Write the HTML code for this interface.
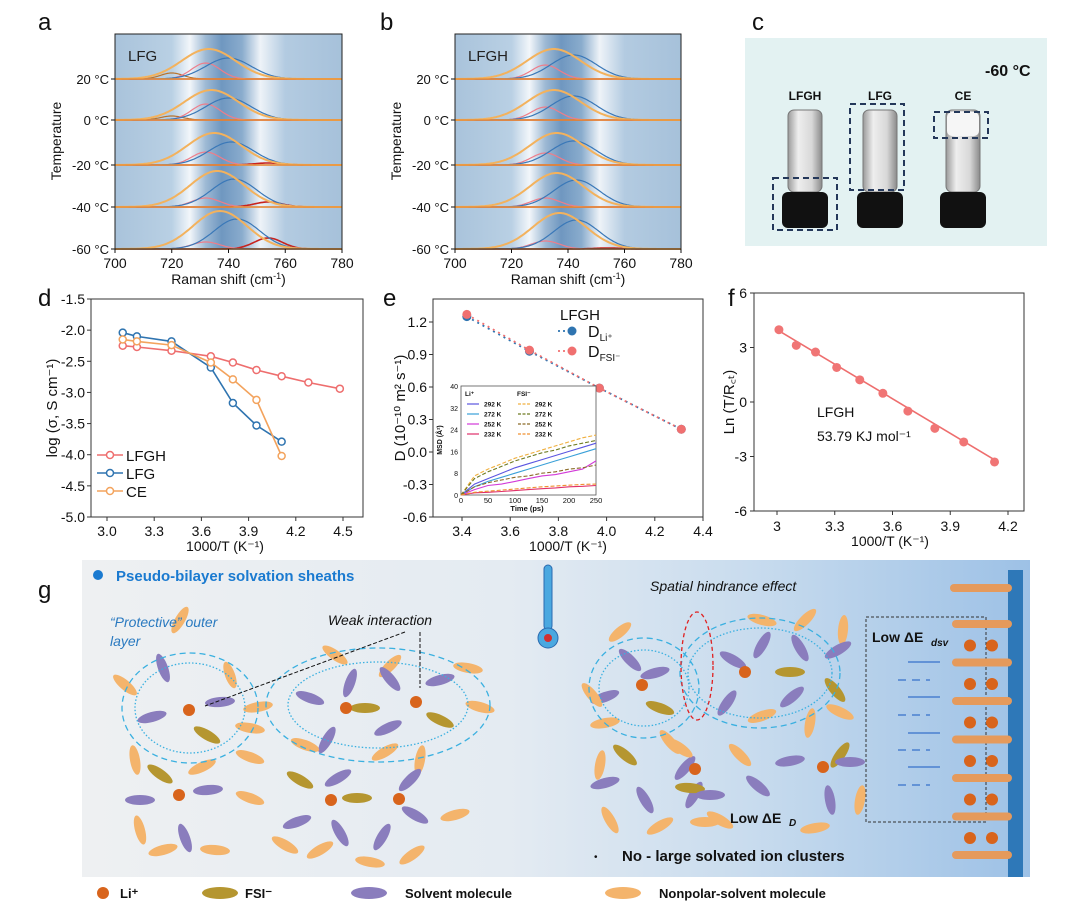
<!DOCTYPE html>
<html><head><meta charset="utf-8">
<style>
html,body{margin:0;padding:0;background:#fff;}
svg{display:block;font-family:"Liberation Sans",Arial,sans-serif;}
</style></head>
<body>
<svg id="fig" width="1080" height="910" viewBox="0 0 1080 910" xmlns="http://www.w3.org/2000/svg">
<defs>
<linearGradient id="ramanBg" x1="0" x2="1" y1="0" y2="0">
<stop offset="0" stop-color="#a9c3db"/><stop offset="0.25" stop-color="#b9d0e4"/>
<stop offset="0.33" stop-color="#f2f6fa"/><stop offset="0.40" stop-color="#9db9d4"/>
<stop offset="0.47" stop-color="#6f97c0"/><stop offset="0.56" stop-color="#8aaccd"/>
<stop offset="0.64" stop-color="#eef3f8"/><stop offset="0.75" stop-color="#b3cbe1"/>
<stop offset="1" stop-color="#a6c1da"/></linearGradient>
<linearGradient id="gBg" x1="0" x2="1" y1="0" y2="0">
<stop offset="0" stop-color="#eef0f2"/><stop offset="0.45" stop-color="#e4ebf2"/>
<stop offset="0.7" stop-color="#c9dcee"/><stop offset="1" stop-color="#9dc1e6"/></linearGradient>
<linearGradient id="glass" x1="0" x2="1"><stop offset="0" stop-color="#9a9a9a"/><stop offset="0.3" stop-color="#eeeeee"/><stop offset="0.7" stop-color="#d8d8d8"/><stop offset="1" stop-color="#8a8a8a"/></linearGradient>
</defs>
<g id="root"></g>
</svg>
<script>
// ---------- data ----------
const ramanTemps = ['20 °C','0 °C','-20 °C','-40 °C','-60 °C'];
const lfgTotalAmp = [30,30,32,36,38];
const lfgTotalCenter = [733,734,735,736,737];
const lfgBlueAmp = [21,22,23,28,30];
const lfgBlueCenter = [740,740,741,742,743];
const lfgPinkAmp = [16,16,13,9,7];
const lfgRedAmp = [0,0,2,5,11];
const lfgBrownAmp = [6,4,0,0,0];
const lfghTotalAmp = [30,30,32,34,36];
const lfghTotalCenter = [735,735,736,736,737];
const lfghBlueAmp = [24,24,24,27,29];
const lfghBlueCenter = [742,742,742,743,743];
const lfghPinkAmp = [14,13,12,9,8];

const dX = [3.10,3.19,3.41,3.66,3.80,3.95,4.11,4.28,4.48];
const dLFGH = [-2.25,-2.27,-2.33,-2.42,-2.52,-2.64,-2.74,-2.84,-2.94];
const dLFG = [-2.04,-2.10,-2.18,-2.60,-3.17,-3.53,-3.79];
const dCE = [-2.15,-2.18,-2.24,-2.52,-2.79,-3.12,-4.02];
const dYTicks = ['-1.5','-2.0','-2.5','-3.0','-3.5','-4.0','-4.5','-5.0'];
const dXTicks = ['3.0','3.3','3.6','3.9','4.2','4.5'];

const eX = [3.42,3.68,3.97,4.31];
const eLi = [1.25,0.93,0.59,0.21];
const eFSI = [1.27,0.94,0.59,0.21];
const eYTicks = ['1.2','0.9','0.6','0.3','0.0','-0.3','-0.6'];
const eXTicks = ['3.4','3.6','3.8','4.0','4.2','4.4'];

const msdT = [0,25,50,75,100,125,150,175,200,225,250];
const msdLi292 = [0,4,6,8,10,11.5,13,14.5,16,17.5,19];
const msdLi272 = [0,3,5,6.5,8,9.5,11,12.5,14,15.5,17];
const msdLi252 = [0,2,3.5,4,5,6,7,7.5,8.5,9.5,12.5];
const msdLi232 = [0,0.8,1,1.3,1.6,2,2.3,2.6,3,3.2,3.5];
const msdF292 = [0,7,9.5,11.5,13.5,15,16.5,18,19.5,21,22];
const msdF272 = [0,6,8.5,10.5,12.5,14,15.5,16.5,18,19,20];
const msdF252 = [0,3,4.5,5.5,6.5,7,8,8.5,9.5,10,11];
const msdF232 = [0,1,1.4,1.8,2.2,2.6,3,3.3,3.6,3.9,4];

const fX = [3.01,3.10,3.20,3.31,3.43,3.55,3.68,3.82,3.97,4.13];
const fY = [3.98,3.12,2.75,1.9,1.22,0.48,-0.5,-1.45,-2.2,-3.3];
const fFitX = [3.01,4.13];
const fFitY = [3.92,-3.18];
const fYTicks = ['6','3','0','-3','-6'];
const fXTicks = ['3','3.3','3.6','3.9','4.2'];

// ---------- helpers ----------
const NS='http://www.w3.org/2000/svg';
const root=document.getElementById('root');
function el(tag,attrs,parent){const e=document.createElementNS(NS,tag);for(const k in attrs)e.setAttribute(k,attrs[k]);(parent||root).appendChild(e);return e;}
function txt(x,y,s,attrs,parent){const t=el('text',Object.assign({x:x,y:y},attrs||{}),parent);t.textContent=s;return t;}
function lin(d0,d1,r0,r1){return v=>r0+(v-d0)/(d1-d0)*(r1-r0);}
function g(v,c,s){return Math.exp(-((v-c)*(v-c))/(2*s*s));}

// panel letters
[['a',38,30],['b',380,30],['c',752,30],['d',38,306],['e',383,306],['f',728,306],['g',38,598]].forEach(p=>{
 const t=txt(p[1],p[2],p[0],{'font-size':24,fill:'#111'});
 
 
});

// ---------- Raman panels ----------
const rowY=[79,120,165,207,249];
function raman(px0,px1,name,label,totA,totC,bluA,bluC,pinkA,redA,brA){
 const G=el('g',{});
 
 
 const X=lin(700,780,px0,px1);
 el('rect',{x:px0,y:34,width:px1-px0,height:215,fill:'url(#ramanBg)'},G);
 for(let r=0;r<5;r++){
  const b=rowY[r];
  const comp=(f,col,w)=>{let d='';for(let v=700;v<=780;v+=0.5){d+=(v===700?'M':'L')+X(v).toFixed(1)+','+(b-f(v)).toFixed(1);}
   const p=el('path',{d:d,fill:'none',stroke:col,'stroke-width':w},G);
   
   };
  comp(v=>brA[r]*g(v,720,4),'#b8742e',1.2);
  comp(v=>redA[r]*g(v,754,5),'#c8231e',1.6);
  comp(v=>pinkA[r]*g(v,732,5),'#ee7d8a',1.2);
  comp(v=>bluA[r]*g(v,bluC[r],8),'#3a78b8',1.2);
  comp(v=>totA[r]*g(v,totC[r],9.5),'#f3b25d',2);
  el('line',{x1:px0,x2:px1,y1:b,y2:b,stroke:'#e8913c','stroke-width':1.6},G);
  const t=txt(px0-6,b+5,ramanTemps[r],{'font-size':13,'text-anchor':'end',fill:'#111'},G);
  
  
  el('line',{x1:px0-4,x2:px0,y1:b,y2:b,stroke:'#111'},G);
 }
 el('rect',{x:px0,y:34,width:px1-px0,height:215,fill:'none',stroke:'#222','stroke-width':1},G);
 [700,720,740,760,780].forEach(v=>{el('line',{x1:X(v),x2:X(v),y1:249,y2:253,stroke:'#111'},G);
  const t=txt(X(v),268,String(v),{'font-size':14,'text-anchor':'middle',fill:'#111'},G);
  
  });
 const xl=txt((px0+px1)/2,284,'Raman shift (cm',{'font-size':14,'text-anchor':'middle',fill:'#111'},G);
 
 
 const ts=document.createElementNS(NS,'tspan');ts.setAttribute('baseline-shift','super');ts.setAttribute('font-size','9');ts.textContent='-1';xl.appendChild(ts);
 const ts2=document.createElementNS(NS,'tspan');ts2.textContent=')';xl.appendChild(ts2);
 const yl=txt(0,0,'Temperature',{'font-size':14,'text-anchor':'middle',fill:'#111',transform:'translate('+(px0-54)+',141) rotate(-90)'},G);
 
 
 const lt=txt(px0+13,61,label,{'font-size':15,fill:'#222'},G);
 
 
}
raman(115,342,'raman-panel-lfg','LFG',lfgTotalAmp,lfgTotalCenter,lfgBlueAmp,lfgBlueCenter,lfgPinkAmp,lfgRedAmp,lfgBrownAmp);
raman(455,681,'raman-panel-lfgh','LFGH',lfghTotalAmp,lfghTotalCenter,lfghBlueAmp,lfghBlueCenter,lfghPinkAmp,[0,0,0,0,1],[0,0,0,0,0]);

// ---------- panel c photo ----------
(function(){
 const G=el('g',{});
 
 
 el('rect',{x:745,y:38,width:302,height:208,fill:'#e3f2f2'},G);
 const t=txt(985,76,'-60 °C',{'font-size':16,'font-weight':'bold',fill:'#111'},G);
 
 
 [['LFGH',805],['LFG',880],['CE',963]].forEach((v,i)=>{
  const l=txt(v[1],100,v[0],{'font-size':12,'font-weight':'bold','text-anchor':'middle',fill:'#111'},G);
  
  
  el('rect',{x:v[1]-17,y:110,width:34,height:82,rx:6,fill:'url(#glass)',stroke:'#777'},G);
  if(i===2) el('rect',{x:v[1]-16,y:112,width:32,height:24,rx:5,fill:'#f6f6f6'},G);
  el('rect',{x:v[1]-23,y:192,width:46,height:36,rx:6,fill:'#111'},G);
 });
 [[773,178,64,52],[850,104,54,86],[934,112,54,26]].forEach(b=>{
  const r=el('rect',{x:b[0],y:b[1],width:b[2],height:b[3],fill:'none',stroke:'#24385a','stroke-width':2,'stroke-dasharray':'6,4'},G);
  
  
 });
})();

// ---------- generic axes ----------
function axesBox(x0,y0,x1,y1,name){const r=el('rect',{x:x0,y:y0,width:x1-x0,height:y1-y0,fill:'none',stroke:'#333','stroke-width':1});
 
 }

// ---------- panel d ----------
(function(){
 const X=lin(3.0,4.5,107,343), Y=lin(-1.5,-5.0,299,517);
 axesBox(91,299,363,517,'conductivity-axes');
 dYTicks.forEach(s=>{const v=parseFloat(s);el('line',{x1:87,x2:91,y1:Y(v),y2:Y(v),stroke:'#333'});
  const t=txt(85,Y(v)+5,s,{'font-size':14,'text-anchor':'end',fill:'#111'});
  
  });
 dXTicks.forEach(s=>{const v=parseFloat(s);el('line',{x1:X(v),x2:X(v),y1:517,y2:521,stroke:'#333'});
  const t=txt(X(v),536,s,{'font-size':14,'text-anchor':'middle',fill:'#111'});
  
  });
 const xl=txt(225,551,'1000/T (K⁻¹)',{'font-size':14,'text-anchor':'middle',fill:'#111'});
 
 
 const yl=txt(0,0,'log (σ,  S cm⁻¹)',{'font-size':15,'text-anchor':'middle',fill:'#111',transform:'translate(57,408) rotate(-90)'});
 
 
 [[dLFGH,'#ee6e6e','LFGH'],[dLFG,'#2f74b0','LFG'],[dCE,'#f3a35d','CE']].forEach((s,k)=>{
  const pts=s[0].map((v,i)=>X(dX[i]).toFixed(1)+','+Y(v).toFixed(1)).join(' ');
  const pl=el('polyline',{points:pts,fill:'none',stroke:s[1],'stroke-width':1.6});
  
  
  s[0].forEach((v,i)=>{const c=el('circle',{cx:X(dX[i]),cy:Y(v),r:3.5,fill:'#fff',stroke:s[1],'stroke-width':1.5});
   
   });
  const ly=455+k*18;
  el('line',{x1:97,x2:123,y1:ly,y2:ly,stroke:s[1],'stroke-width':1.6});
  el('circle',{cx:110,cy:ly,r:3.5,fill:'#fff',stroke:s[1],'stroke-width':1.5});
  const lt=txt(126,ly+6,s[2],{'font-size':15,fill:'#111'});
  
  
 });
})();

// ---------- panel e ----------
(function(){
 const X=lin(3.4,4.4,462,703), Y=lin(1.2,-0.6,322,517);
 axesBox(433,299,703,517,'diffusion-axes');
 eYTicks.forEach(s=>{const v=parseFloat(s);el('line',{x1:429,x2:433,y1:Y(v),y2:Y(v),stroke:'#333'});
  const t=txt(427,Y(v)+5,s,{'font-size':14,'text-anchor':'end',fill:'#111'});
  
  });
 eXTicks.forEach(s=>{const v=parseFloat(s);el('line',{x1:X(v),x2:X(v),y1:517,y2:521,stroke:'#333'});
  const t=txt(X(v),536,s,{'font-size':14,'text-anchor':'middle',fill:'#111'});
  
  });
 const xl=txt(568,551,'1000/T (K⁻¹)',{'font-size':14,'text-anchor':'middle',fill:'#111'});
 
 
 const yl=txt(0,0,'D (10⁻¹⁰ m² s⁻¹)',{'font-size':15,'text-anchor':'middle',fill:'#111',transform:'translate(405,408) rotate(-90)'});
 
 
 [[eLi,'#2f74b0','li'],[eFSI,'#f07070','fsi']].forEach(s=>{
  const pts=s[0].map((v,i)=>X(eX[i]).toFixed(1)+','+Y(v).toFixed(1)).join(' ');
  const pl=el('polyline',{points:pts,fill:'none',stroke:s[1],'stroke-width':1.8,'stroke-dasharray':'2,4'});
  
  
  s[0].forEach((v,i)=>{const c=el('circle',{cx:X(eX[i]),cy:Y(v),r:4.5,fill:s[1]});
   
   });
 });
 const lg=txt(560,320,'LFGH',{'font-size':15,fill:'#111'});
 
 
 el('line',{x1:558,x2:566,y1:331,y2:331,stroke:'#2f74b0','stroke-width':1.8,'stroke-dasharray':'2,3'});
 el('line',{x1:558,x2:566,y1:351,y2:351,stroke:'#f07070','stroke-width':1.8,'stroke-dasharray':'2,3'});
 el('circle',{cx:572,cy:331,r:4.5,fill:'#2f74b0'});
 el('circle',{cx:572,cy:351,r:4.5,fill:'#f07070'});
 const l1=txt(588,337,'D',{'font-size':16,fill:'#111'});
 
 
 const s1=document.createElementNS(NS,'tspan');s1.setAttribute('font-size','10');s1.setAttribute('dy','4');s1.textContent='Li⁺';l1.appendChild(s1);
 const l2=txt(588,357,'D',{'font-size':16,fill:'#111'});
 
 
 const s2=document.createElementNS(NS,'tspan');s2.setAttribute('font-size','10');s2.setAttribute('dy','4');s2.textContent='FSI⁻';l2.appendChild(s2);

 // inset
 const IX=lin(0,250,461,596), IY=lin(0,40,495,386);
 el('rect',{x:461,y:386,width:135,height:109,fill:'#fff',stroke:'#555','stroke-width':0.8});
 ['0','8','16','24','32','40'].forEach(s=>{const t=txt(458,IY(+s)+3,s,{'font-size':7,'text-anchor':'end',fill:'#111'});
  
  });
 ['0','50','100','150','200','250'].forEach(s=>{const t=txt(IX(+s),503,s,{'font-size':7.5,'text-anchor':'middle',fill:'#111'});
  
  });
 const it=txt(527,511,'Time (ps)',{'font-size':7.5,'font-weight':'bold','text-anchor':'middle',fill:'#111'});
 
 
 const iy=txt(0,0,'MSD (Å²)',{'font-size':7,'font-weight':'bold','text-anchor':'middle',fill:'#111',transform:'translate(442,440) rotate(-90)'});
 
 
 const series=[[msdLi292,'#5b55e0',0,'292 K'],[msdLi272,'#3aa0d8',0,'272 K'],[msdLi252,'#d23ad8',0,'252 K'],[msdLi232,'#e0306a',0,'232 K'],
  [msdF292,'#f0b040',1,'292 K'],[msdF272,'#6e7a20',1,'272 K'],[msdF252,'#8a6a28',1,'252 K'],[msdF232,'#f09030',1,'232 K']];
 txt(465,396,'Li⁺',{'font-size':6.5,'font-weight':'bold',fill:'#111'});
 txt(517,396,'FSI⁻',{'font-size':6.5,'font-weight':'bold',fill:'#111'});
 series.forEach((s,k)=>{
  const pts=msdT.map((t,i)=>IX(t).toFixed(1)+','+IY(s[0][i]).toFixed(1)).join(' ');
  const pl=el('polyline',{points:pts,fill:'none',stroke:s[1],'stroke-width':1.1,'stroke-dasharray':s[2]?'4,2':'none'});
  
  
  const lx=s[2]?518:467, ly=404+(k%4)*10;
  el('line',{x1:lx,x2:lx+12,y1:ly,y2:ly,stroke:s[1],'stroke-width':1.2,'stroke-dasharray':s[2]?'3,1.5':'none'});
  const lt=txt(lx+17,ly+2.5,s[3],{'font-size':6.5,'font-weight':'bold',fill:'#111'});
  
  
 });
})();

// ---------- panel f ----------
(function(){
 const X=lin(3.0,4.2,777,1008), Y=lin(6,-6,293,511);
 axesBox(754,293,1024,511,'arrhenius-axes');
 fYTicks.forEach(s=>{const v=parseFloat(s);el('line',{x1:750,x2:754,y1:Y(v),y2:Y(v),stroke:'#333'});
  const t=txt(747,Y(v)+5,s,{'font-size':14,'text-anchor':'end',fill:'#111'});
  
  });
 fXTicks.forEach(s=>{const v=parseFloat(s);el('line',{x1:X(v),x2:X(v),y1:511,y2:515,stroke:'#333'});
  const t=txt(X(v),531,s,{'font-size':14,'text-anchor':'middle',fill:'#111'});
  
  });
 const xl=txt(890,546,'1000/T (K⁻¹)',{'font-size':14,'text-anchor':'middle',fill:'#111'});
 
 
 const yl=txt(0,0,'Ln (T/R꜀ₜ)',{'font-size':15,'text-anchor':'middle',fill:'#111',transform:'translate(734,402) rotate(-90)'});
 
 
 const fl=el('line',{x1:X(fFitX[0]),y1:Y(fFitY[0]),x2:X(fFitX[1]),y2:Y(fFitY[1]),stroke:'#ee6e6e','stroke-width':1.6});
 
 
 fY.forEach((v,i)=>{const c=el('circle',{cx:X(fX[i]),cy:Y(v),r:4.5,fill:'#f07575'});
  
  });
 const a=txt(817,417,'LFGH',{'font-size':14,fill:'#111'});
 
 
 const b=txt(817,441,'53.79 KJ mol⁻¹',{'font-size':14,fill:'#111'});
 
 
})();

// ---------- panel g schematic ----------
(function(){
 const G=el('g',{});
 
 
 el('rect',{x:82,y:560,width:948,height:317,fill:'url(#gBg)'},G);
 el('rect',{x:1008,y:570,width:15,height:307,fill:'#2e78b8'},G);
 el('circle',{cx:98,cy:575,r:5,fill:'#1a7ad0'},G);
 const h=txt(116,581,'Pseudo-bilayer solvation sheaths',{'font-size':15,'font-weight':'bold',fill:'#1a7ad0'},G);
 
 
 const C={o:'#f4b46c',p:'#8a7dbd',y:'#b59630'};
 const ell=[
 [180,620,15,5,-60,'o'],[125,685,15,5,40,'o'],[230,675,14,5,70,'o'],[163,668,15,5,70,'p'],[152,717,15,5,-15,'p'],[220,702,15,5,-5,'p'],[207,735,15,5,30,'y'],[135,760,15,5,80,'o'],[258,707,15,5,-10,'o'],[250,728,15,5,10,'o'],[250,757,15,5,20,'o'],[202,767,15,5,-25,'o'],
 [160,774,15,5,35,'y'],[140,800,15,5,0,'p'],[208,790,15,5,-5,'p'],[140,830,15,5,75,'o'],[185,838,15,5,70,'p'],[163,850,15,5,-15,'o'],[215,850,15,5,5,'o'],[250,798,15,5,20,'o'],
 [390,666,15,5,-45,'o'],[335,655,15,5,35,'o'],[350,683,15,5,-70,'p'],[390,679,15,5,50,'p'],[310,698,15,5,20,'p'],[365,708,15,5,0,'y'],[440,680,15,5,-15,'p'],[468,668,15,5,10,'o'],[480,707,15,5,15,'o'],[440,720,15,5,25,'y'],[388,728,15,5,-25,'p'],[327,740,15,5,-60,'p'],[385,752,15,5,-30,'o'],[305,745,15,5,20,'o'],[420,760,15,5,-80,'o'],
 [300,780,15,5,30,'y'],[338,778,15,5,-30,'p'],[357,798,15,5,0,'y'],[410,780,15,5,-45,'p'],[297,822,15,5,-20,'p'],[340,833,15,5,60,'p'],[382,837,15,5,-60,'p'],[415,815,15,5,30,'p'],[455,815,15,5,-15,'o'],[320,850,15,5,-30,'o'],[285,845,15,5,30,'o'],[412,855,15,5,-35,'o'],[370,862,15,5,10,'o'],
 [620,632,14,5,-40,'o'],[630,660,15,5,45,'p'],[605,697,15,5,-20,'p'],[655,673,15,5,-15,'p'],[660,708,15,5,20,'y'],[592,695,15,5,50,'o'],[605,723,15,5,-10,'o'],[670,742,15,5,50,'o'],
 [762,620,15,5,15,'o'],[805,620,15,5,-45,'o'],[843,630,15,5,-85,'o'],[762,645,15,5,-60,'p'],[800,648,15,5,60,'p'],[838,650,15,5,-30,'p'],[733,660,15,5,30,'p'],[790,672,15,5,0,'y'],[835,690,15,5,50,'y'],[792,697,15,5,-40,'p'],[727,703,15,5,-55,'p'],[762,716,15,5,-20,'o'],[810,723,15,5,-80,'o'],[840,712,15,5,25,'o'],
 [600,765,15,5,-80,'o'],[625,755,15,5,40,'y'],[605,783,15,5,-15,'p'],[685,768,15,5,-50,'p'],[680,748,15,5,35,'o'],[740,755,15,5,45,'o'],[645,800,15,5,60,'p'],[694,795,15,5,-60,'p'],[758,786,15,5,40,'p'],[790,761,15,5,-10,'p'],[840,755,15,5,-55,'y'],[850,762,15,5,0,'p'],[830,800,15,5,80,'p'],[860,800,15,5,-80,'o'],
 [690,788,15,5,5,'y'],[610,820,15,5,60,'o'],[660,826,15,5,-30,'o'],[720,820,15,5,30,'o'],[710,795,15,5,0,'p'],[815,828,15,5,-10,'o'],[705,822,15,5,0,'o']];
 ell.forEach(e=>{const m=el('ellipse',{cx:e[0],cy:e[1],rx:e[2],ry:e[3],fill:C[e[5]],transform:'rotate('+e[4]+' '+e[0]+' '+e[1]+')'},G);
  
  });
 [[189,710],[346,708],[416,702],[179,795],[331,800],[399,799],[642,685],[745,672],[695,769],[823,767]].forEach(p=>{
  const c=el('circle',{cx:p[0],cy:p[1],r:6,fill:'#d8641c'},G);
  
  });
 [[190,708,68,55],[190,708,55,45],[378,705,112,57],[378,705,90,43],[644,688,55,50],[644,688,45,38],[760,673,80,55],[760,673,72,45]].forEach((s,i)=>{
  el('ellipse',{cx:s[0],cy:s[1],rx:s[2],ry:s[3],fill:'none',stroke:'#3ab0e0','stroke-width':1.3,'stroke-dasharray':i%2?'1.5,2':'6,4'},G);});
 el('ellipse',{cx:697,cy:666,rx:16,ry:54,fill:'none',stroke:'#e02020','stroke-width':1.3,'stroke-dasharray':'4,3'},G);
 const t1=txt(110,627,'“Protective” outer',{'font-size':14,'font-style':'italic',fill:'#2a7ac0'},G);
 
 
 txt(110,646,'layer',{'font-size':14,'font-style':'italic',fill:'#2a7ac0'},G);
 const t2=txt(328,625,'Weak interaction',{'font-size':14,'font-style':'italic',fill:'#111'},G);
 
 
 el('line',{x1:405,y1:632,x2:205,y2:706,stroke:'#111','stroke-dasharray':'4,2'},G);
 el('line',{x1:420,y1:632,x2:420,y2:688,stroke:'#111','stroke-dasharray':'4,2'},G);
 const t3=txt(650,591,'Spatial hindrance effect',{'font-size':14,'font-style':'italic',fill:'#111'},G);
 
 
 el('rect',{x:866,y:617,width:120,height:205,fill:'none',stroke:'#333','stroke-dasharray':'3,2'},G);
 const t4=txt(872,642,'Low ΔE',{'font-size':14,'font-weight':'bold',fill:'#111'},G);
 
 
 txt(931,646,'dsv',{'font-size':10,'font-weight':'bold','font-style':'italic',fill:'#111'},G);
 const t5=txt(730,823,'Low ΔE',{'font-size':14,'font-weight':'bold',fill:'#111'},G);
 
 
 txt(789,826,'D',{'font-size':10,'font-weight':'bold','font-style':'italic',fill:'#111'},G);
 txt(594,860,'•',{'font-size':10,fill:'#111'},G);
 const t6=txt(622,861,'No - large solvated ion clusters',{'font-size':15,'font-weight':'bold',fill:'#111'},G);
 
 
 [662,680,697,715,733,750,767,785].forEach((y,i)=>{
  el('line',{x1:i%2?898:908,x2:i%2?930:940,y1:y,y2:y,stroke:'#4a80d0','stroke-width':1.5,'stroke-dasharray':i%2?'8,6':'none'},G);});
 for(let r=0;r<7;r++){const y=612+r*38.5;
  el('rect',{x:952,y:y+8,width:60,height:8,rx:4,fill:'#e59a5c'},G);
  if(r>0){el('circle',{cx:970,cy:y-5,r:6,fill:'#d8641c'},G);el('circle',{cx:992,cy:y-5,r:6,fill:'#d8641c'},G);}}
 el('rect',{x:950,y:584,width:62,height:8,rx:4,fill:'#e59a5c'},G);
 el('rect',{x:544,y:565,width:8,height:65,rx:4,fill:'#4aa8e0',stroke:'#2a6ab0'},G);
 el('circle',{cx:548,cy:638,r:10,fill:'#4aa8e0',stroke:'#2a6ab0'},G);
 el('circle',{cx:548,cy:638,r:4,fill:'#d03030'},G);
 // legend
 el('circle',{cx:103,cy:893,r:6,fill:'#d8641c'},G);
 const l0=txt(120,898,'Li⁺',{'font-size':13,'font-weight':'bold',fill:'#111'},G);
 
 
 [[220,'#b59630','FSI⁻',245],[369,'#8a7dbd','Solvent molecule',405],[623,'#f4b46c','Nonpolar-solvent molecule',659]].forEach(l=>{
  el('ellipse',{cx:l[0],cy:893,rx:18,ry:6,fill:l[1]},G);
  const t=txt(l[3],898,l[2],{'font-size':13,'font-weight':'bold',fill:'#111'},G);
  
  
 });
})();
</script>
</body></html>
